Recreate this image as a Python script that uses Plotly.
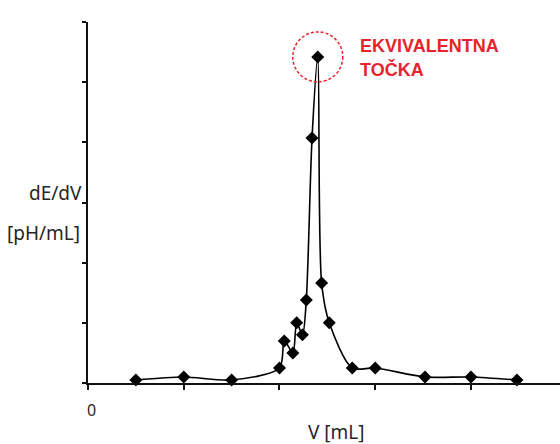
import plotly.graph_objects as go

# Titration derivative curve: volume added vs dE/dV
volume_ml = [2.5, 5.0, 7.5, 10.0, 10.25, 10.7, 10.9, 11.2, 11.4, 11.7,
             12.0, 12.2, 12.6, 13.8, 15.0, 17.6, 20.0, 22.4]
de_dv = [0.05, 0.10, 0.05, 0.25, 0.70, 0.50, 1.00, 0.80, 1.38, 4.07,
         5.42, 1.66, 1.00, 0.25, 0.25, 0.10, 0.10, 0.05]

peak_index = de_dv.index(max(de_dv))
peak_x = volume_ml[peak_index]
peak_y = de_dv[peak_index]

W, H = 560, 444
L, R, T, B = 88, 0, 22, 61
plot_w = W - L - R
plot_h = H - T - B


def px_x(p):
    return (p - L) / plot_w


def px_y(p):
    return (H - B - p) / plot_h


fig = go.Figure()
fig.add_trace(go.Scatter(
    x=volume_ml, y=de_dv,
    mode="lines+markers",
    line=dict(color="black", width=1.6, shape="spline", smoothing=0.8),
    marker=dict(symbol="diamond", size=10, color="black"),
    cliponaxis=False,
    showlegend=False,
))

# dashed circle highlighting the equivalence point
fig.add_shape(
    type="circle", xref="x", yref="y",
    xsizemode="pixel", ysizemode="pixel",
    xanchor=peak_x, yanchor=peak_y,
    x0=-25, x1=25, y0=-25, y1=25,
    line=dict(color="#e8232b", width=1.5, dash="3px,2px"),
)

label_font = dict(family="Noto Sans, Open Sans, sans-serif", size=19, color="#262626")
red_font = dict(family="Liberation Sans, Arial, sans-serif", size=18, color="#e8232b")

annotations = [
    dict(text="dE/dV", x=px_x(84), y=px_y(193), xanchor="right", yanchor="middle", font=label_font),
    dict(text="[pH/mL]", x=px_x(82), y=px_y(233), xanchor="right", yanchor="middle", font=label_font),
    dict(text="V [mL]", x=px_x(336), y=px_y(432), xanchor="center", yanchor="middle", font=label_font),
    dict(text="0", x=px_x(91), y=px_y(410), xanchor="center", yanchor="middle",
         font=dict(family="Noto Sans, sans-serif", size=16, color="#262626")),
    dict(text="<b>EKVIVALENTNA</b>", x=px_x(358), y=px_y(46), xanchor="left", yanchor="middle", font=red_font),
    dict(text="<b>TOČKA</b>", x=px_x(358), y=px_y(70), xanchor="left", yanchor="middle", font=red_font),
]
for a in annotations:
    a.update(xref="paper", yref="paper", showarrow=False)

fig.update_layout(
    width=W, height=H,
    margin=dict(l=L, r=R, t=T, b=B),
    paper_bgcolor="white", plot_bgcolor="white",
    annotations=annotations,
    xaxis=dict(range=[0, 24.65], dtick=5, tick0=0, showticklabels=False,
               ticks="outside", ticklen=5, tickwidth=1.5, tickcolor="#111",
               showline=True, linewidth=2, linecolor="#111",
               showgrid=False, zeroline=False),
    yaxis=dict(range=[0, 6], dtick=1, tick0=0, showticklabels=False,
               ticks="outside", ticklen=4, tickwidth=1.5, tickcolor="#111",
               showline=True, linewidth=2, linecolor="#111",
               showgrid=False, zeroline=False),
)

fig.write_html("out.html")
